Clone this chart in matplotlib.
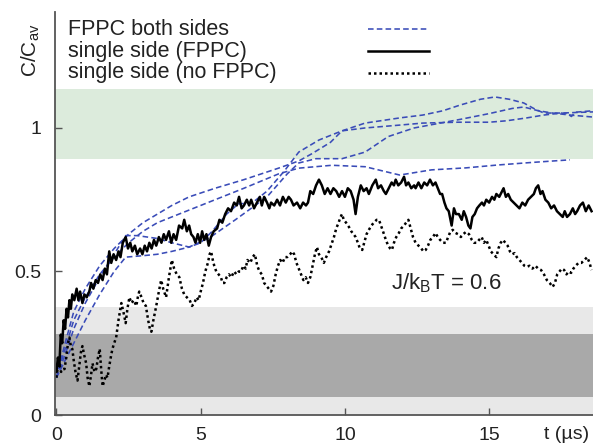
import numpy as np
import matplotlib.pyplot as plt

plt.rcParams['font.family'] = ['Liberation Sans', 'DejaVu Sans']
plt.rcParams['mathtext.fontset'] = 'custom'
plt.rcParams['mathtext.rm'] = 'Liberation Sans'

# single side with FPPC (solid)
solid_t = [0.00, 0.05, 0.10, 0.15, 0.20, 0.25, 0.30, 0.35, 0.40, 0.45, 0.50, 0.55, 0.62, 0.70, 0.76, 0.82, 0.90, 0.97,
           1.05, 1.14, 1.20, 1.28, 1.36, 1.44, 1.52, 1.60, 1.68, 1.75, 1.83, 1.90, 1.98, 2.07, 2.15, 2.22, 2.30, 2.40,
           2.48, 2.56, 2.63, 2.72, 2.80, 2.90, 2.98, 3.06, 3.14, 3.22, 3.30, 3.38, 3.46, 3.55, 3.64, 3.72, 3.80, 3.90,
           3.98, 4.06, 4.15, 4.25, 4.36, 4.43, 4.52, 4.60, 4.67, 4.75, 4.82, 4.90, 4.98, 5.05, 5.12, 5.20, 5.28, 5.36,
           5.45, 5.57, 5.65, 5.75, 5.85, 5.95, 6.05, 6.16, 6.25, 6.33, 6.42, 6.50, 6.60, 6.68, 6.75, 6.85, 6.95, 7.05,
           7.12, 7.20, 7.30, 7.38, 7.44, 7.55, 7.65, 7.75, 7.85, 7.95, 8.05, 8.13, 8.22, 8.34, 8.45, 8.55, 8.65, 8.72,
           8.80, 8.90, 9.00, 9.10, 9.20, 9.30, 9.40, 9.50, 9.60, 9.70, 9.80, 9.90, 10.00, 10.10, 10.20, 10.30, 10.37,
           10.45, 10.55, 10.65, 10.75, 10.83, 10.95, 11.07, 11.15, 11.25, 11.35, 11.42, 11.52, 11.62, 11.70, 11.76,
           11.85, 11.95, 12.05, 12.12, 12.20, 12.30, 12.40, 12.45, 12.55, 12.65, 12.75, 12.85, 12.95, 13.05, 13.14,
           13.22, 13.30, 13.37, 13.45, 13.52, 13.60, 13.66, 13.70, 13.78, 13.85, 13.95, 14.05, 14.12, 14.20, 14.28,
           14.35, 14.42, 14.50, 14.58, 14.66, 14.75, 14.82, 14.90, 15.00, 15.10, 15.18, 15.25, 15.35, 15.45, 15.50,
           15.58, 15.66, 15.75, 15.85, 15.95, 16.05, 16.15, 16.25, 16.35, 16.45, 16.55, 16.62, 16.70, 16.78, 16.85,
           16.95, 17.05, 17.15, 17.25, 17.35, 17.45, 17.55, 17.62, 17.70, 17.80, 17.90, 17.98, 18.05, 18.15, 18.25,
           18.35, 18.45, 18.55]
solid_c = [0.15, 0.20, 0.17, 0.28, 0.25, 0.33, 0.30, 0.37, 0.34, 0.40, 0.37, 0.42, 0.40, 0.44, 0.40, 0.43, 0.39, 0.42,
           0.41, 0.43, 0.46, 0.44, 0.47, 0.46, 0.49, 0.47, 0.51, 0.49, 0.57, 0.53, 0.56, 0.54, 0.57, 0.55, 0.60, 0.62,
           0.58, 0.60, 0.57, 0.59, 0.56, 0.58, 0.56, 0.59, 0.57, 0.60, 0.58, 0.61, 0.59, 0.62, 0.60, 0.63, 0.61, 0.64,
           0.60, 0.63, 0.61, 0.66, 0.65, 0.68, 0.64, 0.66, 0.63, 0.62, 0.60, 0.63, 0.60, 0.64, 0.61, 0.63, 0.59, 0.62,
           0.64, 0.65, 0.68, 0.67, 0.70, 0.72, 0.71, 0.74, 0.73, 0.76, 0.72, 0.73, 0.75, 0.73, 0.75, 0.72, 0.74, 0.76,
           0.73, 0.76, 0.74, 0.72, 0.74, 0.73, 0.75, 0.73, 0.76, 0.74, 0.76, 0.75, 0.73, 0.74, 0.72, 0.74, 0.73, 0.74,
           0.78, 0.77, 0.80, 0.82, 0.80, 0.77, 0.79, 0.77, 0.79, 0.78, 0.76, 0.78, 0.76, 0.79, 0.78, 0.75, 0.70,
           0.76, 0.80, 0.78, 0.79, 0.77, 0.80, 0.82, 0.79, 0.80, 0.78, 0.77, 0.79, 0.81, 0.80, 0.82,
           0.80, 0.81, 0.83, 0.80, 0.81, 0.79, 0.80, 0.79, 0.81, 0.79, 0.81, 0.80, 0.82, 0.80, 0.81,
           0.79, 0.77, 0.77, 0.74, 0.72, 0.71, 0.68, 0.66, 0.72, 0.70, 0.70, 0.68, 0.71, 0.69, 0.66,
           0.65, 0.69, 0.70, 0.72, 0.73, 0.74, 0.73, 0.75, 0.74, 0.76, 0.75, 0.77, 0.76, 0.78, 0.79,
           0.76, 0.77, 0.75, 0.74, 0.73, 0.72, 0.74, 0.73, 0.75, 0.76, 0.77, 0.79, 0.80, 0.77, 0.78,
           0.75, 0.74, 0.72, 0.73, 0.71, 0.70, 0.69, 0.71, 0.69, 0.70, 0.72, 0.70, 0.71, 0.73, 0.74,
           0.71, 0.73, 0.71]

# single side without FPPC (dotted)
dotted_t = [0.00, 0.05, 0.10, 0.16, 0.22, 0.28, 0.34, 0.40, 0.45, 0.50, 0.55, 0.60, 0.66, 0.73, 0.80, 0.85, 0.90, 0.96,
            1.03, 1.08, 1.14, 1.20, 1.25, 1.32, 1.38, 1.44, 1.50, 1.55, 1.60, 1.66, 1.72, 1.77, 1.83, 1.90, 1.94, 2.00,
            2.07, 2.15, 2.25, 2.32, 2.40, 2.46, 2.53, 2.60, 2.68, 2.77, 2.82, 2.87, 2.95, 3.02, 3.10, 3.18, 3.24, 3.29,
            3.36, 3.46, 3.55, 3.63, 3.70, 3.80, 3.90, 4.00, 4.08, 4.17, 4.26, 4.35, 4.43, 4.52, 4.62, 4.70, 4.78, 4.86,
            4.93, 5.00, 5.08, 5.16, 5.25, 5.31, 5.36, 5.42, 5.47, 5.54, 5.62, 5.70, 5.76, 5.82, 5.90, 5.98, 6.06, 6.16,
            6.24, 6.32, 6.40, 6.48, 6.56, 6.62, 6.72, 6.80, 6.88, 6.96, 7.04, 7.12, 7.20, 7.28, 7.36, 7.44, 7.52, 7.60,
            7.68, 7.76, 7.84, 7.92, 8.00, 8.10, 8.18, 8.24, 8.32, 8.40, 8.48, 8.56, 8.64, 8.72, 8.80, 8.88, 8.96, 9.03,
            9.10, 9.18, 9.27, 9.35, 9.45, 9.55, 9.62, 9.70, 9.78, 9.85, 9.90, 9.96, 10.04, 10.14, 10.22, 10.30, 10.37,
            10.45, 10.52, 10.60, 10.67, 10.75, 10.83, 10.92, 11.00, 11.10, 11.18, 11.25, 11.32, 11.42, 11.50, 11.57,
            11.63, 11.70, 11.78, 11.87, 11.95, 12.05, 12.12, 12.20, 12.28, 12.36, 12.45, 12.55, 12.65, 12.72, 12.80,
            12.88, 12.96, 13.05, 13.14, 13.22, 13.30, 13.40, 13.50, 13.58, 13.66, 13.74, 13.82, 13.92, 14.02, 14.10,
            14.20, 14.30, 14.40, 14.48, 14.57, 14.65, 14.74, 14.82, 14.90, 14.98, 15.06, 15.15, 15.25, 15.32, 15.40,
            15.48, 15.56, 15.64, 15.72, 15.80, 15.88, 15.96, 16.05, 16.14, 16.22, 16.30, 16.40, 16.50, 16.60, 16.70,
            16.80, 16.90, 17.00, 17.10, 17.20, 17.28, 17.36, 17.44, 17.52, 17.60, 17.68, 17.76, 17.84, 17.92, 18.00,
            18.10, 18.20, 18.30, 18.40, 18.48, 18.55]
dotted_c = [0.13, 0.17, 0.18, 0.15, 0.16, 0.16, 0.20, 0.25, 0.27, 0.24, 0.23, 0.19, 0.15, 0.12, 0.18, 0.22, 0.24, 0.21,
            0.18, 0.13, 0.10, 0.14, 0.18, 0.15, 0.16, 0.20, 0.23, 0.16, 0.10, 0.12, 0.14, 0.13, 0.17, 0.21, 0.23, 0.25,
            0.27, 0.33, 0.39, 0.36, 0.32, 0.37, 0.41, 0.39, 0.40, 0.38, 0.41, 0.43, 0.41, 0.39, 0.38, 0.33, 0.30, 0.29,
            0.33, 0.38, 0.43, 0.47, 0.44, 0.41, 0.48, 0.54, 0.51, 0.49, 0.48, 0.44, 0.42, 0.41, 0.40, 0.38, 0.39, 0.41,
            0.40, 0.43, 0.46, 0.50, 0.53, 0.56, 0.57, 0.54, 0.52, 0.50, 0.49, 0.48, 0.46, 0.46, 0.48, 0.49, 0.48, 0.50,
            0.49, 0.50, 0.50, 0.52, 0.51, 0.54, 0.53, 0.55, 0.56, 0.52, 0.50, 0.49, 0.46, 0.45, 0.44, 0.43, 0.45, 0.49,
            0.52, 0.54, 0.53, 0.55, 0.55, 0.56, 0.57, 0.56, 0.53, 0.51, 0.49, 0.47, 0.48, 0.46, 0.48, 0.52, 0.56, 0.585,
            0.56, 0.55, 0.53, 0.55, 0.57, 0.60, 0.62, 0.65, 0.67, 0.69, 0.70, 0.68, 0.67, 0.655, 0.64, 0.63, 0.62,
            0.60, 0.58, 0.575, 0.60, 0.63, 0.645, 0.66, 0.67, 0.68, 0.68, 0.66, 0.64, 0.61, 0.59, 0.58,
            0.575, 0.60, 0.62, 0.634, 0.65, 0.66, 0.67, 0.68, 0.65, 0.62, 0.60, 0.59, 0.58, 0.57, 0.575,
            0.59, 0.61, 0.62, 0.634, 0.62, 0.61, 0.60, 0.60, 0.62, 0.64, 0.645, 0.635, 0.63, 0.62, 0.63,
            0.638, 0.63, 0.61, 0.60, 0.60, 0.61, 0.62, 0.60, 0.61, 0.59, 0.57, 0.56, 0.55, 0.58, 0.60,
            0.61, 0.60, 0.59, 0.57, 0.56, 0.564, 0.55, 0.54, 0.53, 0.52, 0.516, 0.52, 0.51, 0.52, 0.51,
            0.505, 0.49, 0.47, 0.46, 0.446, 0.46, 0.49, 0.50, 0.51, 0.505, 0.49, 0.50, 0.495, 0.51, 0.52,
            0.53, 0.53, 0.54, 0.55, 0.53, 0.505]

# FPPC on both sides, four runs (dashed)
# run that overshoots near t = 15
fppc_t1 = [0, 0.3, 0.6, 1.0, 1.5, 2.0, 2.4, 2.8, 3.5, 4.0, 4.6, 5.0, 5.4, 5.9, 6.3, 6.8, 7.3, 7.9, 8.4, 9.1, 9.9,
           10.7, 11.9, 12.7, 13.4, 14.0, 14.7, 15.2, 15.7, 16.2, 16.6, 16.9, 17.5, 18.6]
fppc_c1 = [0.13, 0.21, 0.30, 0.39, 0.48, 0.56, 0.625, 0.625, 0.615, 0.60, 0.585, 0.60, 0.64, 0.70, 0.735, 0.74,
           0.78, 0.85, 0.916, 0.958, 0.99, 1.017, 1.035, 1.045, 1.06, 1.08, 1.10, 1.108, 1.10, 1.087, 1.065, 1.052,
           1.052, 1.056]
# slowest early run
fppc_t2 = [0, 0.3, 0.6, 1.0, 1.5, 2.0, 2.4, 3.0, 3.5, 4.0, 4.6, 5.3, 6.2, 7.3, 8.0, 8.4, 9.0, 9.9, 10.7, 11.5,
           12.4, 14.0, 15.0, 15.8, 16.2, 16.7, 17.2, 17.8, 18.6]
fppc_c2 = [0.13, 0.19, 0.25, 0.33, 0.42, 0.50, 0.55, 0.555, 0.56, 0.57, 0.585, 0.617, 0.68, 0.76, 0.84, 0.878,
           0.893, 0.893, 0.916, 0.97, 1.0, 1.03, 1.05, 1.068, 1.073, 1.06, 1.052, 1.045, 1.038]
# fastest early run
fppc_t3 = [0, 0.3, 0.6, 1.0, 1.5, 2.0, 2.5, 3.0, 3.5, 4.0, 4.6, 5.5, 6.5, 7.7, 8.4, 8.85, 9.5, 9.9, 10.7, 11.9,
           12.7, 13.9, 15.0, 15.6, 16.3, 16.9, 17.5, 17.7, 17.85, 18.0, 18.6]
fppc_c3 = [0.13, 0.25, 0.36, 0.44, 0.52, 0.58, 0.63, 0.67, 0.70, 0.73, 0.76, 0.79, 0.82, 0.86, 0.885, 0.91, 0.95,
           0.99, 1.0, 1.01, 1.017, 1.02, 1.02, 1.025, 1.035, 1.045, 1.052, 1.05, 1.04, 1.055, 1.06]
# run that stays just under the band
fppc_t4 = [0, 0.3, 0.6, 1.0, 1.5, 2.0, 2.5, 3.0, 3.5, 4.0, 4.6, 5.5, 6.5, 7.7, 8.4, 9.55, 10.7, 11.9, 13.0, 14.2,
           15.3, 16.5, 17.8]
fppc_c4 = [0.13, 0.23, 0.33, 0.41, 0.49, 0.55, 0.60, 0.64, 0.67, 0.69, 0.714, 0.75, 0.79, 0.84, 0.86, 0.87, 0.865,
           0.836, 0.854, 0.861, 0.871, 0.88, 0.889]

blue = '#3a4cb8'

fig = plt.figure(figsize=(5.93, 4.47), dpi=100)
ax = fig.add_axes([55 / 593, 32 / 447, 538 / 593, 403 / 447])

# target bands
ax.axhspan(0, 0.376, color='#e8e8e8', lw=0, zorder=0)
ax.axhspan(0.063, 0.282, color='#a9a9a9', lw=0, zorder=0)
ax.axhspan(0.892, 1.136, color='#dcebdc', lw=0, zorder=0)

dash = dict(color=blue, lw=1.15, ls=(0, (3.5, 2)))
for tt, cc in [(fppc_t1, fppc_c1), (fppc_t2, fppc_c2), (fppc_t3, fppc_c3), (fppc_t4, fppc_c4)]:
    ax.plot(tt, cc, **dash)
ax.plot(solid_t, solid_c, color='black', lw=1.8)
ax.plot(dotted_t, dotted_c, color='black', lw=1.8, ls=(0, (1, 1.2)))

ax.set_xlim(-0.05, 18.6)
ax.set_ylim(0, 1.404)
ax.set_xticks([0, 5, 10, 15])
ax.set_yticks([0, 0.5, 1])
ax.set_yticklabels(['0', '0.5', '1'])
ax.tick_params(direction='in', length=5, width=1, colors='#555555', labelcolor='#222222', labelsize=14)
ax.tick_params(axis='y', pad=10)
ax.tick_params(axis='x', pad=9)
for s in ['top', 'right']:
    ax.spines[s].set_visible(False)
for s in ['left', 'bottom']:
    ax.spines[s].set_color('#555555')
    ax.spines[s].set_linewidth(1.3)

ax.text(-0.046, 0.906, r'C/C$_\mathregular{av}$', transform=ax.transAxes, rotation=90,
        ha='center', va='center', fontsize=15, color='#222222')
ax.text(16.9, -0.038, 't (µs)', ha='left', va='top', fontsize=14, color='#222222', clip_on=False)
ax.text(11.6, 0.46, r'J/k$_\mathregular{B}$T = 0.6', ha='left', va='center', fontsize=16, color='#222222')

# legend: label on the left, line sample on the right
labels = ['FPPC both sides', 'single side (FPPC)', 'single side (no FPPC)']
styles = [dash, dict(color='black', lw=1.8), dict(color='black', lw=1.8, ls=(0, (1, 1.2)))]
for i, (lab, st) in enumerate(zip(labels, styles)):
    y = 0.957 - 0.054 * i
    ax.text(0.024, y, lab, transform=ax.transAxes, ha='left', va='center', fontsize=15.5, color='#222222')
    ax.plot([0.582, 0.695], [y, y], transform=ax.transAxes, clip_on=False, **st)

fig.savefig('out.png', dpi=100)
